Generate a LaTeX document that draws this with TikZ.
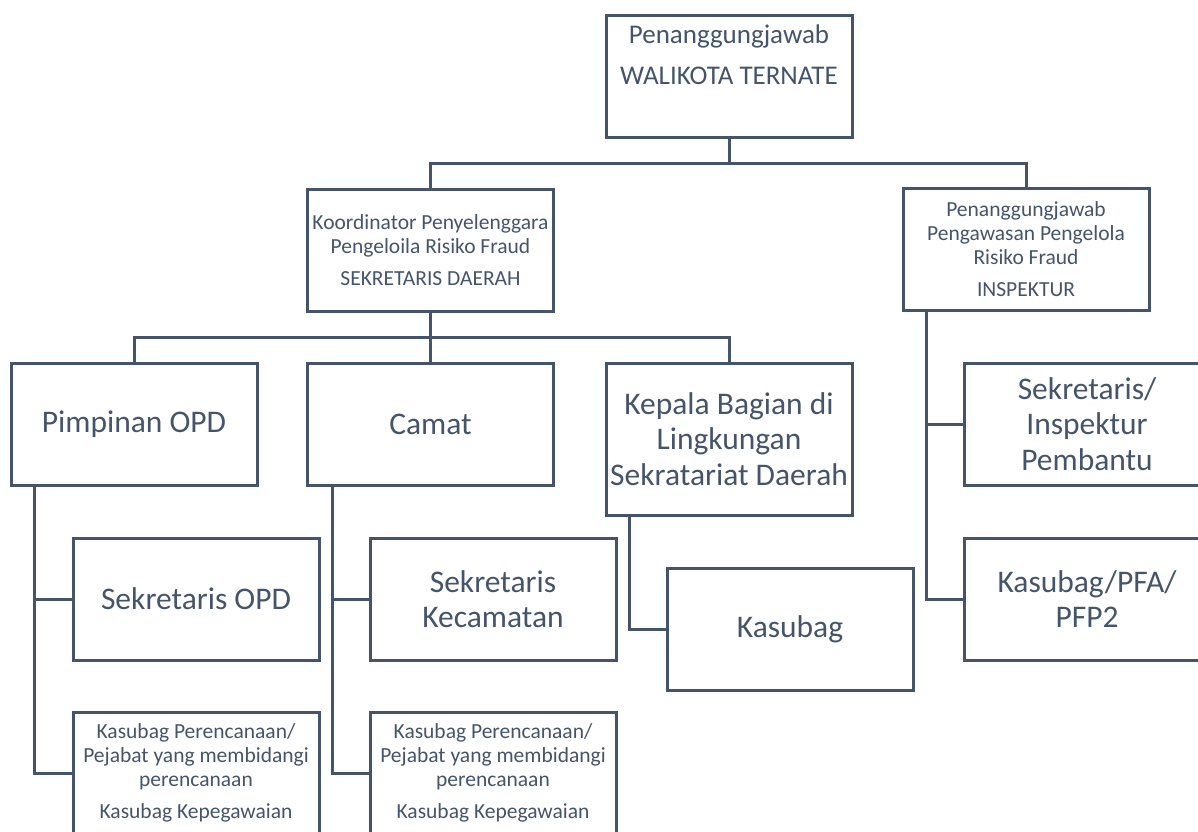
\documentclass[tikz,border=0pt]{standalone}
\usepackage{fontspec}
\setmainfont{Carlito}
\definecolor{slate}{HTML}{44546A}

\begin{document}
\begin{tikzpicture}[x=1pt, y=-1pt, line width=3pt, color=slate,
    unit/.style={draw, text=slate, align=center, inner sep=0pt,
      minimum width=246pt, minimum height=122pt},
    small/.style={font=\fontsize{21.5}{24}\selectfont},
    large/.style={font=\fontsize{31.5}{35.5}\selectfont}]
  \useasboundingbox (0,0) rectangle (1198,831);
  \clip (0,0) rectangle (1198,831);
  \node[unit] (wali) at (729,76) {\parbox[c][102pt][t]{240pt}{\centering\fontsize{27}{41}\selectfont Penanggungjawab\\WALIKOTA TERNATE}};
  \node[unit, small] (sekda) at (430.5,250) {Koordinator Penyelenggara\\Pengeloila Risiko Fraud\\[8pt]SEKRETARIS DAERAH};
  \node[unit, small] (insp) at (1026,249.5) {Penanggungjawab\\Pengawasan Pengelola\\Risiko Fraud\\[8pt]INSPEKTUR};
  \node[unit, large] (opd) at (134,424) {Pimpinan OPD};
  \node[unit, large] (camat) at (430.5,424) {Camat};
  \node[unit, large, minimum height=152pt] (kabag) at (729,439) {Kepala Bagian di\\Lingkungan\\Sekratariat Daerah};
  \node[unit, large] (sekins) at (1087,424) {Sekretaris/\\Inspektur\\Pembantu};
  \node[unit, large] (pfa) at (1087,599) {Kasubag/PFA/\\PFP2};
  \node[unit, large] (sekopd) at (196,599) {Sekretaris OPD};
  \node[unit, large] (sekkec) at (493,599) {Sekretaris\\Kecamatan};
  \node[unit, large] (kasubag) at (790,629.5) {Kasubag};
  \node[unit, small] (renopd) at (196,773) {Kasubag Perencanaan/\\Pejabat yang membidangi\\perencanaan\\[8pt]Kasubag Kepegawaian};
  \node[unit, small] (renkec) at (493,773) {Kasubag Perencanaan/\\Pejabat yang membidangi\\perencanaan\\[8pt]Kasubag Kepegawaian};
  \draw (wali.south) -- ++(0,25) -| (sekda.north);
  \draw (wali.south) -- ++(0,25) -| (insp.north);
  \draw (sekda.south) -- ++(0,25) -| (opd.north);
  \draw (sekda.south) -- (camat.north);
  \draw (sekda.south) -- ++(0,25) -| (kabag.north);
  \draw (opd.south west) ++(25,0) |- (sekopd.west);
  \draw (opd.south west) ++(25,0) |- (renopd.west);
  \draw (camat.south west) ++(26.5,0) |- (sekkec.west);
  \draw (camat.south west) ++(26.5,0) |- (renkec.west);
  \draw (kabag.south west) ++(25,0) |- (kasubag.west);
  \draw (insp.south west) ++(25,0) |- (sekins.west);
  \draw (insp.south west) ++(25,0) |- (pfa.west);
\end{tikzpicture}
\end{document}
